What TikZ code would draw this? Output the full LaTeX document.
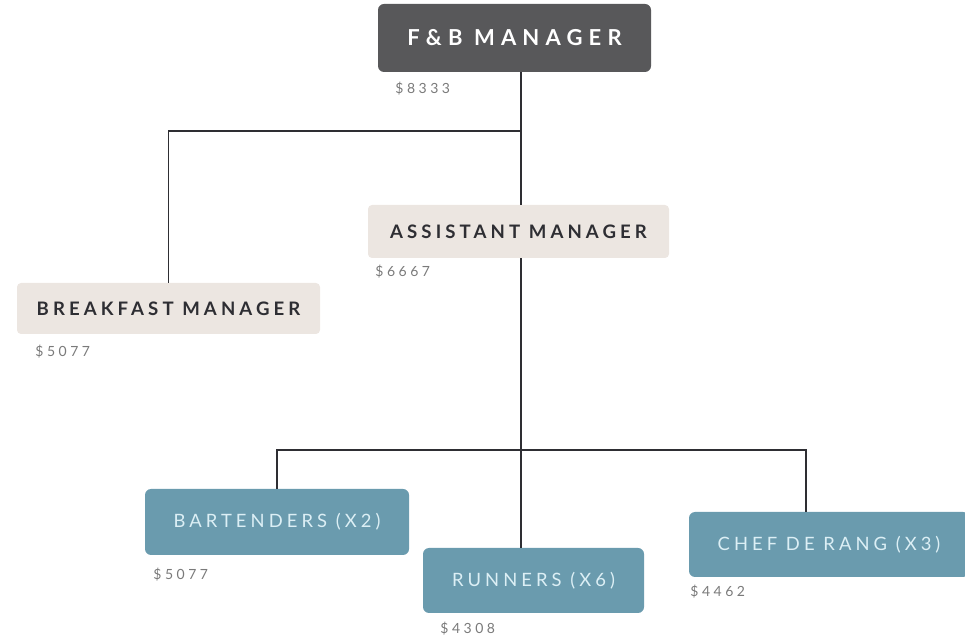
\documentclass[tikz,border=0pt]{standalone}
\usepackage{fontspec}
\setsansfont{Lato}
\newfontfamily\titlefont[LetterSpace=22]{Lato}
\newfontfamily\headfont[LetterSpace=28]{Lato}
\newfontfamily\pricefont[LetterSpace=25]{Lato}
\usepackage{tikz}

\definecolor{headgray}{HTML}{58585A}
\definecolor{sandbox}{HTML}{ECE6E1}
\definecolor{teambox}{HTML}{6A9BAE}
\definecolor{teamtext}{HTML}{DCEFF5}
\definecolor{darktext}{HTML}{2E2E33}
\definecolor{pricegray}{HTML}{7A7A7A}

\begin{document}
\begin{tikzpicture}[x=0.5pt, y=-0.5pt,
  headbox/.style={rectangle, rounded corners=3pt, fill=headgray, text=white,
    font=\headfont\bfseries\fontsize{11}{13}\selectfont},
  mgrbox/.style={rectangle, rounded corners=2pt, fill=sandbox, text=darktext,
    font=\titlefont\bfseries\fontsize{9.3}{11}\selectfont},
  crewbox/.style={rectangle, rounded corners=3pt, fill=teambox, text=teamtext,
    font=\titlefont\fontsize{9.2}{11}\selectfont},
  price/.style={anchor=base west, inner sep=0pt, text=pricegray,
    font=\pricefont\fontsize{7}{8}\selectfont},
  link/.style={line width=0.75pt, draw=darktext}]
\useasboundingbox (0,0) rectangle (965,641);

% Managers
\node[headbox, minimum width=136.5pt, minimum height=34pt] (fb) at (514.5,38) {F\&B MANAGER};
\node[mgrbox, minimum width=150.5pt, minimum height=26.5pt] (asst) at (518.5,231.5) {ASSISTANT MANAGER};
\node[mgrbox, minimum width=151.5pt, minimum height=25.5pt] (bk) at (168.5,308.5) {BREAKFAST MANAGER};

% Crew
\node[crewbox, minimum width=132pt, minimum height=33pt] (bar) at (277,522) {BARTENDERS (X2)};
\node[crewbox, minimum width=110.5pt, minimum height=32.5pt] (run) at (533.5,580.5) {RUNNERS (X6)};
\node[crewbox, minimum width=140pt, minimum height=32.5pt] (chef) at (829,544.5) {CHEF DE RANG (X3)};

% Salaries
\node[price] (pfb) at (395,94) {\$8333};
\node[price] (passt) at (375,277) {\$6667};
\node[price] (pbk) at (35,357) {\$5077};
\node[price] (pbar) at (153,580) {\$5077};
\node[price] (prun) at (440,634) {\$4308};
\node[price] (pchef) at (690,597) {\$4462};

% Lines
\coordinate (trunk) at (521,131);
\coordinate (split) at (521,450);
\coordinate (chefdrop) at (806,450);
\draw[link] (fb.south -| trunk) -- (asst.north -| trunk);
\draw[link] (trunk) -| (bk.north);
\draw[link] (asst.south -| split) -- (run.north -| split);
\draw[link] (split) -| (bar.north);
\draw[link] (split) -- (chefdrop) -- (chef.north -| chefdrop);
\end{tikzpicture}
\end{document}
